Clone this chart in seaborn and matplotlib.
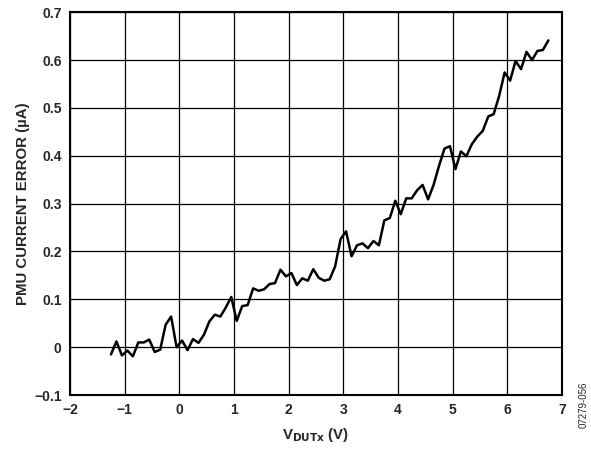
import matplotlib
matplotlib.use("Agg")
import matplotlib.pyplot as plt
import seaborn as sns
import pandas as pd

# V_DUTx sweep (V) and PMU current error (uA)
v_dut = [-1.25, -1.15, -1.05, -0.95, -0.85, -0.75, -0.65, -0.55, -0.45, -0.35,
         -0.25, -0.15, -0.05, 0.05, 0.15, 0.25, 0.35, 0.45, 0.55, 0.65,
         0.75, 0.85, 0.95, 1.05, 1.15, 1.25, 1.35, 1.45, 1.55, 1.65,
         1.75, 1.85, 1.95, 2.05, 2.15, 2.25, 2.35, 2.45, 2.55, 2.65,
         2.75, 2.85, 2.95, 3.05, 3.15, 3.25, 3.35, 3.45, 3.55, 3.65,
         3.75, 3.85, 3.95, 4.05, 4.15, 4.25, 4.35, 4.45, 4.55, 4.65,
         4.75, 4.85, 4.95, 5.05, 5.15, 5.25, 5.35, 5.45, 5.55, 5.65,
         5.75, 5.85, 5.95, 6.05, 6.15, 6.25, 6.35, 6.45, 6.55, 6.65,
         6.75]
err_ua = [-0.015, 0.012, -0.017, -0.007, -0.019, 0.010, 0.010, 0.016, -0.010, -0.005,
          0.047, 0.064, 0.000, 0.014, -0.006, 0.017, 0.009, 0.026, 0.054, 0.068,
          0.064, 0.083, 0.105, 0.055, 0.086, 0.088, 0.123, 0.118, 0.121, 0.132,
          0.134, 0.162, 0.148, 0.155, 0.130, 0.144, 0.139, 0.163, 0.145, 0.139,
          0.142, 0.169, 0.226, 0.242, 0.190, 0.213, 0.217, 0.207, 0.222, 0.213,
          0.265, 0.270, 0.306, 0.278, 0.311, 0.311, 0.328, 0.339, 0.309, 0.339,
          0.379, 0.415, 0.420, 0.372, 0.409, 0.399, 0.424, 0.440, 0.452, 0.482,
          0.487, 0.525, 0.574, 0.557, 0.598, 0.581, 0.617, 0.600, 0.619, 0.621,
          0.641]

x_ticks = [-2, -1, 0, 1, 2, 3, 4, 5, 6, 7]
x_labels = ["\u22122", "\u22121", "0", "1", "2", "3", "4", "5", "6", "7"]
y_ticks = [-0.1, 0, 0.1, 0.2, 0.3, 0.4, 0.5, 0.6, 0.7]
y_labels = ["\u22120.1", "0", "0.1", "0.2", "0.3", "0.4", "0.5", "0.6", "0.7"]

sns.set_style("white")
plt.rcParams["font.family"] = ["Liberation Sans", "DejaVu Sans"]
plt.rcParams["font.weight"] = "bold"

df = pd.DataFrame({"v": v_dut, "err": err_ua})

fig = plt.figure(figsize=(5.91, 4.5), dpi=100)
ax = fig.add_axes([0.1184, 0.122, 0.8326, 0.851])

ax.grid(True, color="black", linewidth=0.9)
ax.set_axisbelow(True)
sns.lineplot(data=df, x="v", y="err", ax=ax, color="black", linewidth=1.8)

ax.set_xlim(-2, 7)
ax.set_ylim(-0.1, 0.7)
ax.set_xticks(x_ticks)
ax.set_xticklabels(x_labels, fontsize=10, fontweight="bold")
ax.set_yticks(y_ticks)
ax.set_yticklabels(y_labels, fontsize=10, fontweight="bold")
ax.tick_params(length=0, pad=6)

for s in ax.spines.values():
    s.set_color("black")
    s.set_linewidth(1.5)

ax.set_xlabel("V$_{\\mathbf{DUTx}}$ (V)", fontsize=10.8, fontweight="bold", labelpad=6)
ax.set_ylabel("PMU CURRENT ERROR (\u00b5A)", fontsize=10.8, fontweight="bold", labelpad=3)

fig.text(0.987, 0.1, "07279-056", rotation=90, fontsize=7, ha="center", va="center",
         fontweight="normal")

fig.savefig("out.png", dpi=100)
